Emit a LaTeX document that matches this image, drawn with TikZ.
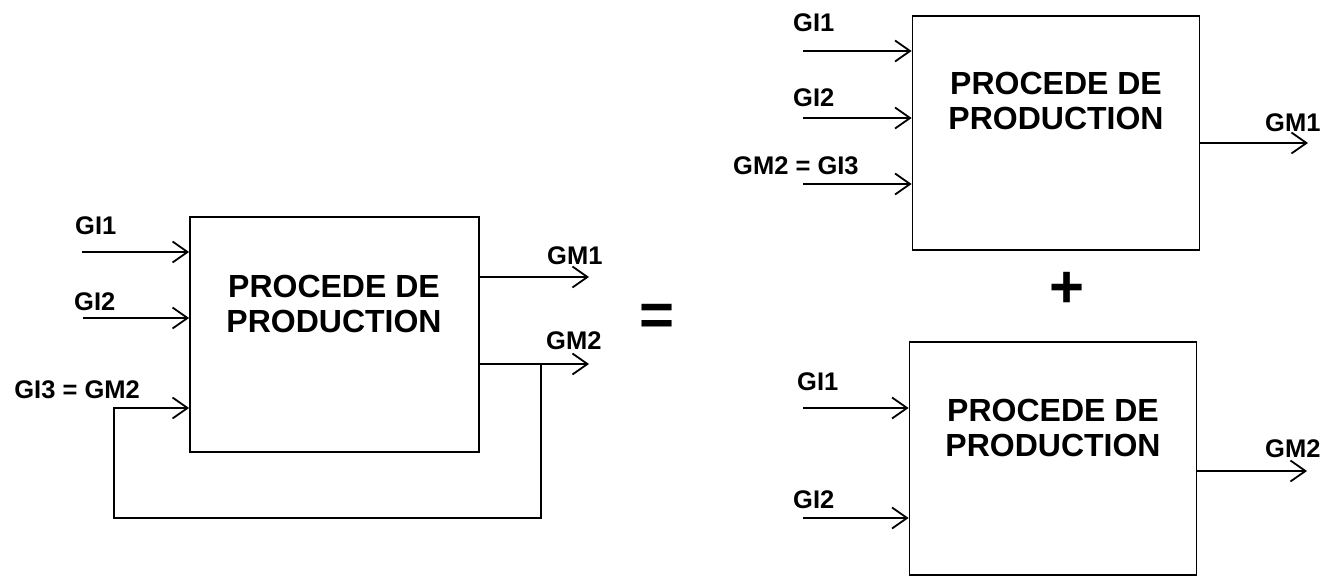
\documentclass[tikz,border=0pt]{standalone}
\usepackage{fontspec}
\setmainfont{Liberation Sans}
\usetikzlibrary{arrows.meta,positioning}
\tikzset{
  >={Straight Barb[length=15pt,width=21pt]},
  procbox/.style={draw, line width=1.8pt, minimum width=287pt, minimum height=234pt, inner sep=0pt},
  proctext/.style={font=\fontsize{32}{35}\selectfont\bfseries, align=center, inner sep=0pt},
  lbl/.style={font=\fontsize{25.5}{28}\selectfont\bfseries, anchor=base west, inner sep=0pt},
  sym/.style={font=\fontsize{60}{62}\selectfont\bfseries, inner sep=0pt},
  flow/.style={line width=1.8pt},
}
\begin{document}
\begin{tikzpicture}[x=1pt, y=-1pt]
\useasboundingbox (0,0) rectangle (1338,577);
% left: process with recycling
\node[procbox, minimum width=289pt, minimum height=235pt] (procA) at (334.5,334.5) {};
\node[proctext] (tA) at (334,304) {PROCEDE DE\\PRODUCTION};
\coordinate (a1) at (82,252);
\coordinate (a2) at (83,318);
\coordinate (a3) at (114,408);
\coordinate (m1) at (589,277);
\coordinate (m2) at (589,364);
\coordinate (split) at (541,364);
\node[lbl] (la1) at (75,235) {GI1};
\node[lbl] (la2) at (74,310) {GI2};
\node[lbl, anchor=base east] (la3) at (140,398) {GI3 = GM2};
\node[lbl] (lm1) at (547,265) {GM1};
\node[lbl] (lm2) at (546,349) {GM2};
\draw[flow, ->] (a1) -- (a1 -| procA.west);
\draw[flow, ->] (a2) -- (a2 -| procA.west);
\draw[flow, ->] (m1 -| procA.east) -- (m1);
\draw[flow, ->] (m2 -| procA.east) -- (m2);
\draw[flow, ->] (split) -- (541,518) -| (a3) -- (a3 -| procA.west);
% equals
\node[sym] (eq) at (657,320) {=};
% right top
\node[procbox] (procB) at (1056,133) {};
\node[proctext] (tB) at (1056,101) {PROCEDE DE\\PRODUCTION};
\coordinate (b1) at (803,51);
\coordinate (b2) at (803,118);
\coordinate (b3) at (803,184);
\coordinate (bm1) at (1308,143);
\node[lbl] (lb1) at (793,32) {GI1};
\node[lbl] (lb2) at (793,107) {GI2};
\node[lbl] (lb3) at (733,175) {GM2 = GI3};
\node[lbl] (lbm1) at (1265,132) {GM1};
\draw[flow, ->] (b1) -- (b1 -| procB.west);
\draw[flow, ->] (b2) -- (b2 -| procB.west);
\draw[flow, ->] (b3) -- (b3 -| procB.west);
\draw[flow, ->] (bm1 -| procB.east) -- (bm1);
% plus
\node[sym] (plus) at (1067,290) {+};
% right bottom
\node[procbox, minimum height=233pt] (procC) at (1053,458.5) {};
\node[proctext] (tC) at (1053,428) {PROCEDE DE\\PRODUCTION};
\coordinate (c1) at (803,408);
\coordinate (c2) at (803,518);
\coordinate (cm2) at (1307,471);
\node[lbl] (lc1) at (797,390) {GI1};
\node[lbl] (lc2) at (793,508) {GI2};
\node[lbl] (lcm2) at (1265,457) {GM2};
\draw[flow, ->] (c1) -- (c1 -| procC.west);
\draw[flow, ->] (c2) -- (c2 -| procC.west);
\draw[flow, ->] (cm2 -| procC.east) -- (cm2);
\end{tikzpicture}
\end{document}
